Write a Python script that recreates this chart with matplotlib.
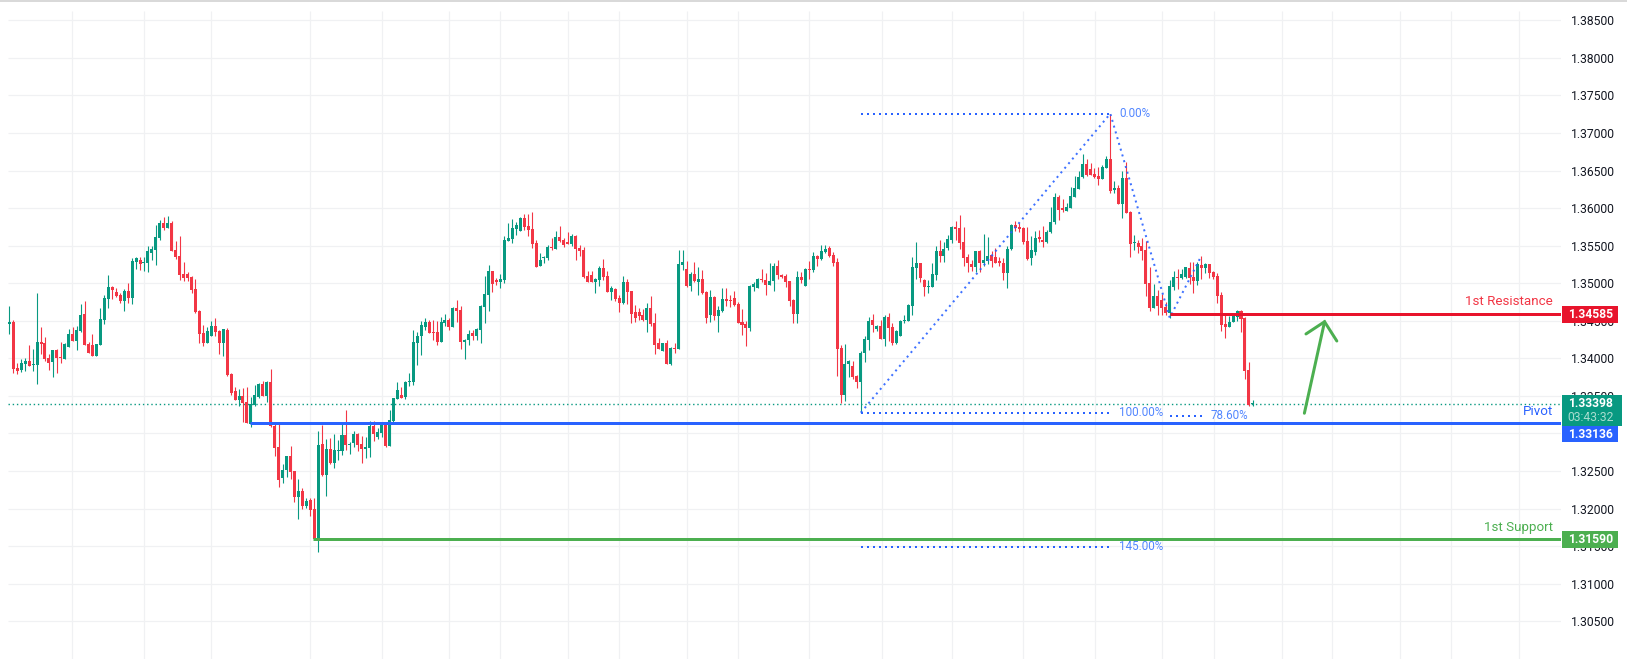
import numpy as np
import matplotlib
matplotlib.use("Agg")
import matplotlib.pyplot as plt
from matplotlib.patches import Rectangle

# prices are kept as pips above 1.30000
base_price = 1.3

opens = [445.9, 448.6, 387.3, 384.7, 392.7, 396.6, 391.3, 391.3, 421.9, 420.6,
    400.6, 395.3, 411.3, 402, 399.3, 415.3, 432.6, 423.3, 436.6, 459.2,
    419.3, 418, 403.3, 418, 451.3, 479.2, 495.2, 488.6, 484.6, 476.6,
    489.9, 480.6, 528.5, 531.2, 527.2, 527.2, 540.5, 544.5, 560.5, 580.5,
    573.8, 580.5, 544.5, 536.5, 512.5, 512.5, 508.5, 492.5, 463.2, 433.9,
    420.6, 429.9, 443.3, 436.6, 420.6, 437.9, 379.3, 356.7, 344.7, 350,
    342, 312.7, 338, 348.7, 366, 350, 368.7, 310.1, 282.1, 240.8,
    251.5, 270.1, 250.1, 215.5, 223.5, 203.5, 211.5, 199.5, 159.1, 286.1,
    244.8, 279.4, 260.8, 276.8, 276.8, 298, 284.8, 287.4, 299.4, 286.1,
    279.4, 280.8, 310.1, 295.4, 300.7, 312.7, 283.4, 316.7, 346,
    351.4, 348.3, 368.7, 368.7, 420.6, 429.9, 441.9, 448.6, 435.3, 435.3, 421.9,
    447.3, 451.3, 441.9, 467.2, 464.6, 421.9, 424.6, 433.9, 429.9, 437.9,
    468.6, 484.6, 516.5, 504.5, 501.9, 504.5, 556.5, 559.2, 572.5, 569.8,
    587.1, 576.5, 572.5, 553.8, 523.2, 533.8, 533.8, 548.5, 545.8, 561.8,
    557.8, 555.2, 552.5, 563.1, 547.2, 544.5, 509.9, 511.2, 501.9, 504.5,
    520.5, 509.9, 488.6, 492.5, 480.6, 473.9, 501.9, 489.9, 461.9, 461.9,
    457.9, 451.3, 467.2, 447.3, 420.6, 410, 420.6, 392.7, 414, 412.6,
    524.5, 519.2, 496.5, 512.5, 501.9, 505.9, 488.6, 457.9, 481.9, 456.6,
    463.2, 479.2, 477.9, 480.6, 472.6, 448.6, 445.9, 440.6, 495.2, 493.9,
    505.9, 504.5, 497.9, 503.2, 523.2, 511.2, 509.9, 503.2, 477.9, 459.3,
    508.5, 496.5, 519.2, 517.9, 536.5,
    532.6, 541.9, 547.3, 537.9, 528.6, 414, 351.5, 392.8, 390.1, 376.8,
    368.8, 407.4, 424.7, 451.4, 439.4, 443.4, 426, 455.4, 442, 420.7,
    430, 450, 450, 470, 520.6, 527.3, 504.6, 495.3, 495.3, 511.3,
    543.3, 536.6, 547.3, 557.9, 573.9, 573.9, 555.3, 535.3, 525.9, 521.8,
    543.3, 527.3, 530, 537.9, 535.3, 528.6, 527.3, 513.9, 545.9, 577.9,
    573.9, 573.9, 556.6, 533.9, 541.9, 560.6, 556.6, 555.3, 568.6, 581.9,
    615.2, 599.2, 596.5, 600.5, 615.2, 625.9, 641.8, 659.2, 652.5, 645.8,
    643.2, 639.2, 653.8, 665.8, 624.5, 627.2, 605.9, 640.5, 595.2, 553.9,
    553.9, 549.9, 544.6, 500.6, 467.3, 483.3, 478, 468.7, 460.7, 495.3,
    508.6, 507.3, 508.6, 520.6, 508.6, 503.3, 524.6, 520.6, 525.9, 515.3,
    510, 484.5, 445.8, 441.8, 448.5, 455.2, 463.2, 453.8, 384.6, 338.6]

highs = [469.0, 451.3, 394, 399.3, 400.6, 418, 412.6, 487.2, 441.9, 428.6,
    406, 411.3, 412.6, 421.9, 420.6, 439.3, 441.9, 443.3, 472.6, 476.6,
    421.9, 432.6, 419.3, 467.2, 484.6, 511.2, 496.5, 493.9, 487.2, 492.5,
    500.5, 533.8, 535.2, 535.2, 535.2, 549.8, 549.8, 577.8, 584.5, 588.5,
    589.8, 583.1, 556.5, 563.1, 528.5, 515.2, 509.9, 505.9, 464.6, 444.6,
    441.9, 449.9, 453.9, 437.9, 439.3, 440.6, 380.7, 362, 359.4, 360.7,
    362, 348.7, 364.7, 367.3, 370, 370, 386, 313.6, 314, 259.4,
    270.1, 283.4, 250.1, 239.5, 227.5, 214.2, 214.2, 214.2, 303.4, 311.4,
    292.7, 294, 299.4, 291.4, 315, 331.4, 288.7, 303.4, 300.7, 296.7,
    295.4, 316.7, 316.7, 307.4, 315.4, 314, 331.4, 347.4, 368.7,
    362, 370, 380.7, 437.9, 435.3, 449.9, 453.9, 451.3, 451.3, 449.9, 455.3,
    459.3, 453.9, 468.6, 477.9, 469.9, 425.9, 437.9, 437.9, 440.6, 471.2,
    509.9, 524.5, 516.5, 507.2, 512.5, 563.1, 580.5, 585.8, 581.8, 588.5,
    592.5, 592.5, 595.1, 557.8, 540.5, 536.5, 551.2, 560.5, 569.8, 576.5,
    560.5, 568.5, 565.8, 564.5, 551.2, 548.5, 516.5, 516.5, 507.2, 523.2,
    532.5, 516.5, 496.5, 493.9, 484.6, 509.9, 505.9, 489.9, 471.2, 467.2,
    465.9, 473.9, 483.2, 460.6, 427.3, 420.6, 424.6, 415.3, 420.6, 544.5,
    544.5, 529.8, 515.2, 528.5, 521.9, 517.9, 489.9, 491.2, 483.2, 469.9,
    493.9, 493.9, 484.6, 489.9, 475.2, 465.9, 449.9, 497.9, 501.9, 507.2,
    519.2, 513.9, 527.2, 527.2, 531.2, 512.5, 512.5, 503.2, 479.2, 516.5,
    515.2, 520.5, 529.8, 541.8, 537.8,
    551.3, 551.3, 549.9, 541.9, 533.9, 418, 419.4, 398.1, 396.7, 378.1,
    410, 430, 455.4, 459.4, 444.7, 451.4, 458, 460.7, 447.4, 438,
    451.4, 458, 472.7, 535.3, 555.3, 527.3, 506, 504.6, 527.3, 549.9,
    557.9, 555.3, 564.6, 576.6, 583.2, 591.2, 575.2, 539.3, 531.3, 543.3,
    544.6, 565.9, 561.9, 543.3, 547.3, 535.3, 533.9, 549.9, 579.2, 583.2,
    580.6, 575.2, 575.2, 563.2, 569.9, 571.2, 576.6, 571.2, 601.9, 620.5,
    617.9, 612.5, 607.2, 628.5, 643.2, 649.8, 672.5, 665.8, 660.5, 653.8,
    655.2, 657.8, 669.8, 725.8, 636.5, 631.2, 649.8, 661.8, 596.5, 564.6,
    557.9, 560.6, 556.6, 521.3, 499.3, 491.3, 486, 475.3, 504.6, 516.6,
    519.3, 519.3, 522, 528.6, 528.6, 528.6, 536.6, 527.3, 525.9, 516.6,
    514, 488.5, 457.8, 456.5, 457.8, 464.5, 464.5, 455.2, 395.2, 344.6]

lows = [432.6, 380.7, 379.3, 382, 383.3, 390, 383.3, 366, 406, 396.6,
    384.7, 375.3, 380.7, 394, 399.3, 415.3, 423.3, 411.3, 435.3, 418,
    407.3, 403.3, 403.3, 418, 445.9, 467.2, 479.2, 481.9, 473.9, 463.2,
    473.9, 472.6, 519.2, 517.9, 516.5, 515.2, 531.2, 524.5, 557.8, 571.1,
    573.8, 543.2, 532.5, 504.5, 503.2, 503.2, 487.2, 460.6, 420.6, 416.6,
    420.6, 429.9, 429.9, 406, 403.3, 376.7, 351.4, 344.7, 336.7, 315.4,
    314, 308.7, 336.7, 347.4, 350, 342, 308.3, 270.1, 228.8, 234.1,
    242.1, 239.5, 208.8, 186.2, 199.5, 200.8, 190.2, 159.1, 142.2, 243.5,
    216.8, 259.4, 254.1, 264.8, 271.4, 278.1, 272.8, 282.1, 276.8, 260.8,
    267.4, 268.8, 290.1, 292.7, 295.4, 282.1, 283.4, 315.4, 346,
    346.9, 346, 363.3, 364.7, 391.3, 404.6, 437.9, 433.9, 424.6, 418, 421.9,
    443.3, 437.9, 441.9, 448.6, 412.6, 399.3, 418, 424.6, 424.6, 420.6,
    447.3, 463.2, 488.6, 497.9, 493.9, 500.5, 556.5, 553.8, 564.5, 569.8,
    571.1, 563.1, 547.2, 521.9, 523.2, 527.2, 531.2, 544.5, 545.8, 555.2,
    548.5, 552.5, 549.8, 531.2, 536.5, 507.2, 501.9, 501.9, 487.2, 496.5,
    504.5, 488.6, 477.9, 476.6, 461.9, 472.6, 472.6, 447.3, 448.6, 451.3,
    449.9, 435.3, 443.3, 406, 412.6, 410, 392.7, 391.3, 407.3, 412.6,
    517.9, 495.2, 489.9, 501.9, 484.6, 485.9, 447.3, 448.6, 451.3, 435.3,
    461.9, 469.9, 468.6, 469.9, 447.3, 431.3, 416.6, 436.6, 489.9, 493.9,
    501.9, 484.6, 497.9, 489.9, 505.9, 507.2, 495.2, 469.9, 447.3, 447.3,
    500.5, 496.5, 505.9, 515.2, 523.2,
    531.3, 540.6, 535.3, 523.3, 376.8, 340.8, 343.5, 375.4, 372.8, 360.8,
    327.6, 395.4, 411.4, 435.4, 436.7, 426, 416.7, 423.4, 418, 419.4,
    430, 447.4, 450, 458, 506, 502, 483.3, 487.3, 495.3, 504.6,
    528.6, 528.6, 544.6, 553.9, 557.9, 545.9, 523.3, 515.3, 516.6, 515.3,
    515.3, 523.3, 525.9, 521.9, 527.3, 523.3, 504.6, 494, 544.6, 569.9,
    568.6, 552.6, 531.3, 524.6, 537.9, 555.3, 548.6, 553.9, 567.2, 579.2,
    584.6, 595.2, 596.5, 600.5, 615.2, 625.9, 640.5, 643.2, 644.5, 640.5,
    631.2, 639.2, 653.8, 620.5, 620.5, 605.9, 587.2, 593.9, 535.3, 544.6,
    540.6, 531.3, 483.3, 463.3, 467.3, 458, 458, 458, 454, 491.3,
    492.7, 506, 507.3, 499.3, 487.3, 498, 506, 513.9, 507.3, 506,
    474, 436.5, 427.2, 441.8, 448.5, 449.8, 435.2, 372.6, 336.6, 336.6]

closes = [448.6, 386, 383.3, 394, 396.6, 390, 392.7, 421.9, 419.3, 399.3,
    394, 411.3, 400.6, 400.6, 419.3, 432.6, 423.3, 437.9, 457.9, 418,
    407.3, 403.3, 419.3, 452.6, 480.6, 495.2, 491.2, 483.2, 476.6, 489.9,
    480.6, 529.8, 533.8, 525.8, 528.5, 543.2, 545.8, 561.8, 580.5, 573.8,
    580.5, 543.2, 535.2, 511.2, 507.2, 507.2, 491.2, 461.9, 432.6, 420.6,
    436.6, 443.3, 435.3, 420.6, 439.3, 378, 354, 344.7, 350, 340.2,
    314, 339.4, 351.4, 366, 350, 368.7, 309.6, 280.8, 238.1, 251.5,
    270.1, 248.8, 215.5, 223.5, 203.5, 210.2, 198.2, 159.1, 284.8, 244.8,
    279.4, 260.8, 278.1, 278.1, 298, 284.8, 286.1, 299.4, 284.8, 279.4,
    282.1, 310.1, 299.4, 302.1, 312.7, 283.4, 318, 347.4, 358,
    347.4, 368.7, 370, 421.9, 429.9, 444.6, 448.6, 433.9, 433.9, 421.9, 448.6,
    451.3, 441.9, 467.2, 463.2, 421.9, 424.6, 432.6, 429.9, 439.3, 469.9,
    485.9, 516.5, 499.2, 501.9, 505.9, 557.8, 560.5, 573.8, 577.8, 587.1,
    575.1, 571.1, 552.5, 521.9, 531.2, 535.2, 548.5, 547.2, 561.8, 556.5,
    551.2, 552.5, 563.1, 545.8, 543.2, 508.5, 501.9, 501.9, 505.9, 520.5,
    508.5, 488.6, 493.9, 479.2, 473.9, 501.9, 488.6, 459.3, 453.9, 456.6,
    451.3, 467.2, 445.9, 417.9, 412.6, 420.6, 392.7, 414, 412.6, 525.9,
    528.5, 496.5, 512.5, 503.2, 505.9, 487.2, 453.9, 481.9, 456.6, 464.6,
    479.2, 476.6, 476.6, 471.2, 447.3, 444.6, 440.6, 496.5, 499.2, 505.9,
    504.5, 497.9, 503.2, 523.2, 511.2, 508.5, 501.9, 476.6, 459.3, 508.5,
    504.5, 519.2, 517.9, 536.5, 532.5,
    543.3, 545.9, 536.6, 527.3, 412.7, 351.5, 392.8, 396.7, 375.4, 368.8,
    407.4, 426, 450, 444.7, 443.4, 426, 455.4, 440.7, 420.7, 436.7,
    450, 451.4, 471.3, 522, 527.3, 507.3, 495.3, 496.6, 512.6, 543.3,
    536.6, 545.9, 559.3, 575.2, 572.6, 553.9, 533.9, 527.3, 521.8, 543.3,
    527.3, 531.3, 536.6, 530, 527.3, 527.3, 513.9, 545.9, 577.9, 573.9,
    572.6, 555.3, 532.6, 544.6, 560.6, 559.3, 555.3, 568.6, 581.9, 615.2,
    597.9, 597.9, 601.9, 616.5, 627.2, 641.8, 659.2, 644.5, 644.5, 641.8,
    639.2, 655.2, 665.8, 623.2, 627.2, 605.9, 640.5, 593.9, 552.6, 555.3,
    548.6, 543.3, 499.3, 467.3, 483.3, 470, 467.3, 460.7, 496.6, 508.6,
    507.3, 512.6, 522, 507.3, 503.3, 525.9, 520.6, 525.9, 513.9, 508.6,
    483.3, 444.5, 441.8, 448.5, 457.8, 463.2, 452.5, 383.2, 337.9, 339.8]

price_ticks = [1.305, 1.31, 1.315, 1.32, 1.325, 1.33, 1.335, 1.34, 1.345, 1.35,
    1.355, 1.36, 1.365, 1.37, 1.375, 1.38, 1.385]
time_grid_bars = [15.8, 34, 50.9, 75.9, 94.1, 111, 123.9, 141, 154, 171.1, 184, 201.9,
    220.4, 238, 256, 274.2, 291.1, 304.2, 321.3, 334, 351.2, 364, 381.2]

resistance = 1.34585
pivot = 1.33136
support = 1.3159
last_price = 1.33398
countdown = "03:43:32"

# fib tool levels
fib_bars = [215, 278, 293, 301]
fib_prices = [1.33276, 1.37258, 1.34540, 1.35366]
fib_0 = 1.37258
fib_100 = 1.33276
fib_145 = 1.31491
fib_786 = 1.33236

arrow_bars = [327.0, 332.1]
arrow_prices = [1.33268, 1.34487]
head_bars = [327.4, 332.1, 335.2]
head_prices = [1.34324, 1.34487, 1.34230]

UP = "#089981"
DOWN = "#f23645"
BLUE = "#2962ff"
RED_LINE = "#e8142c"
GREEN_LINE = "#4caf50"
GRID = "#f0f1f3"
FONT = "Roboto"

W, H = 1627, 659
fig = plt.figure(figsize=(W / 100, H / 100), dpi=100, facecolor="white")
ax = fig.add_axes([0, 0, 1561 / W, 1])
ax.set_xlim(-2.356, 391.8)
ax.set_ylim(1.29996, 1.38771)
for s in ax.spines.values():
    s.set_visible(False)

px = 0.72  # one pixel in points

# grid
ax.hlines(price_ticks, -0.34, 391.8, color=GRID, lw=1.2 * px, zorder=1)
ax.vlines(time_grid_bars, 1.29996, 1.38625, color=GRID, lw=1.2 * px, zorder=1)

# candles
o = base_price + np.array(opens) / 1e4
h = base_price + np.array(highs) / 1e4
l = base_price + np.array(lows) / 1e4
c = base_price + np.array(closes) / 1e4
bars = np.arange(len(o))
colors = [UP if ce >= op else DOWN for op, ce in zip(o, c)]
ax.vlines(bars, l, h, colors=colors, lw=1.1 * px, zorder=3)
ax.bar(bars, np.maximum(np.abs(c - o), 0.00016), bottom=np.minimum(o, c), width=0.76,
       color=colors, linewidth=0, zorder=3)

# last price line
ax.hlines(last_price, -0.34, 391.8, color=UP, lw=1.4 * px, linestyles=(0, (1, 2)), zorder=2)

# fib tool, dotted
dots = dict(color=BLUE, lw=2 * px, linestyle=(0, (1, 2)), dash_capstyle="butt", zorder=4)
ax.plot(fib_bars, fib_prices, alpha=0.9, **dots)
ax.plot(fib_bars[:2], [fib_0, fib_0], **dots)
ax.plot(fib_bars[:2], [fib_100, fib_100], **dots)
ax.plot(fib_bars[:2], [fib_145, fib_145], **dots)
ax.plot([293.1, 301.4], [fib_786, fib_786], **dots)

fib_text = dict(color="#5286ff", fontsize=8.4, family=FONT, va="center", ha="left", zorder=6)
ax.text(280.2, fib_0, "0.00%", **fib_text)
ax.text(280.2, fib_100, "100.00%", **fib_text)
ax.text(280.2, fib_145, "145.00%", **fib_text)
ax.text(303.2, fib_786, "78.60%", **fib_text)

# levels
ax.plot([293, 391.8], [resistance, resistance], color=RED_LINE, lw=3 * px, solid_capstyle="butt", zorder=5)
ax.plot([60.8, 391.8], [pivot, pivot], color=BLUE, lw=3 * px, solid_capstyle="butt", zorder=5)
ax.plot([76.7, 391.8], [support, support], color=GREEN_LINE, lw=3 * px, solid_capstyle="butt", zorder=5)

# hand drawn arrow
ax.plot(arrow_bars, arrow_prices, color=GREEN_LINE, lw=3 * px, solid_capstyle="round", zorder=5)
ax.plot(head_bars, head_prices, color=GREEN_LINE, lw=3 * px, solid_capstyle="round",
        solid_joinstyle="miter", zorder=5)

# level names
trans = ax.get_yaxis_transform()
level_text = dict(transform=trans, ha="right", va="center", fontsize=9.6, family=FONT, zorder=6)
ax.text(0.9947, 1.3475, "1st Resistance", color=DOWN, **level_text)
ax.text(0.9947, 1.33294, "Pivot", color=BLUE, **level_text)
ax.text(0.9947, 1.3175, "1st Support", color=GREEN_LINE, **level_text)

# price scale
ax.yaxis.tick_right()
ax.set_yticks(price_ticks)
ax.set_yticklabels(["%.5f" % t for t in price_ticks], family=FONT, fontsize=8.7, color="#131722")
ax.tick_params(axis="y", length=0, pad=7)
ax.set_xticks([])


def price_tag(price, label, color, center=None):
    # the scale pushes a tag aside when it would sit on another one
    mid = price if center is None else center
    ax.add_patch(Rectangle((1.0006, mid - 0.00111), 0.0357, 0.00222, transform=trans, color=color,
                           clip_on=False, linewidth=0, zorder=7))
    ax.text(1.0192, mid, label, transform=trans, color="white", ha="center", va="center",
            fontsize=8.7, fontweight="bold", family=FONT, clip_on=False, zorder=8)


price_tag(resistance, "%.5f" % resistance, RED_LINE)
price_tag(pivot, "%.5f" % pivot, BLUE, center=1.32992)
price_tag(support, "%.5f" % support, GREEN_LINE)

# last price tag with countdown
ax.add_patch(Rectangle((1.0006, 1.33103), 0.0383, 0.00409, transform=trans, color=UP,
                       clip_on=False, linewidth=0, zorder=9))
ax.text(1.0192, last_price, "%.5f" % last_price, transform=trans, color="white", ha="center",
        va="center", fontsize=8.7, fontweight="bold", family=FONT, clip_on=False, zorder=10)
ax.text(1.0192, 1.33212, countdown, transform=trans, color="#a8dccf", ha="center",
        va="center", fontsize=8.7, family=FONT, clip_on=False, zorder=10)

# grey strip along the top edge of the screenshot
fig.add_artist(Rectangle((0, 1 - 2 / H), 1, 2 / H, transform=fig.transFigure, color="#d9d9d9", linewidth=0))

fig.savefig("out.png", dpi=100)
